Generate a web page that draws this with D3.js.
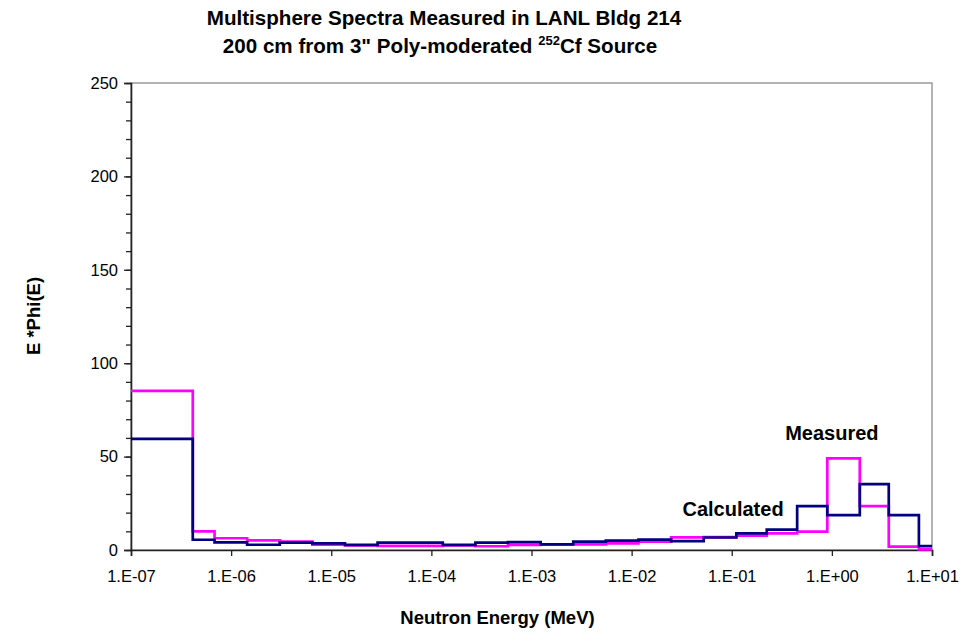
<!DOCTYPE html>
<html>
<head>
<meta charset="utf-8">
<script src="https://cdn.jsdelivr.net/npm/d3@7"></script>
<style>
  body { margin: 0; background: #fff; }
  text { font-family: "Liberation Sans", Arial, sans-serif; }
</style>
</head>
<body>
<div id="chart"></div>
<script>
// bin edges in MeV (26 edges -> 25 bins)
const binEdges = [1e-7, 4.14e-7, 6.83e-7, 1.445e-6, 3.059e-6, 6.476e-6, 1.371e-5, 2.902e-5,
    6.144e-5, 1.301e-4, 2.754e-4, 5.829e-4, 1.234e-3, 2.613e-3, 5.531e-3, 1.171e-2,
    2.479e-2, 5.247e-2, 1.111e-1, 2.237e-1, 4.5e-1, 9.0e-1, 1.9, 3.7, 7.4, 10];

// E*Phi(E) per bin
const measured = [85.2, 10.0, 6.3, 5.2, 4.5, 2.8, 2.4, 2.2, 2.2, 2.4, 2.0, 2.7, 3.0,
    3.0, 3.6, 4.5, 6.8, 6.9, 7.7, 8.9, 9.8, 49.1, 23.5, 1.8, 0.3];
const calculated = [59.5, 5.5, 4.1, 2.8, 4.0, 3.6, 2.7, 3.9, 3.9, 2.7, 3.9, 4.2, 3.0,
    4.5, 5.0, 5.6, 4.8, 6.7, 8.9, 10.9, 23.5, 18.7, 35.3, 18.7, 2.1];

const xTicks = [1e-7, 1e-6, 1e-5, 1e-4, 1e-3, 1e-2, 1e-1, 1e0, 1e1];
const xTickLabels = ["1.E-07", "1.E-06", "1.E-05", "1.E-04", "1.E-03", "1.E-02", "1.E-01", "1.E+00", "1.E+01"];
const yTicks = [0, 50, 100, 150, 200, 250];
const yMinorTicks = d3.range(0, 251, 10);

const W = 966, H = 634;
const margins = { top: 83, right: 34, bottom: 84, left: 131 };
const width = W - margins.left - margins.right;   // 801
const height = H - margins.top - margins.bottom;  // 467

const svg = d3.select("#chart")
    .append("svg")
        .attr("width", W)
        .attr("height", H);

// title, two lines, the second with a superscript
const title = svg.append("text")
    .attr("x", 444)
    .attr("y", 25)
    .attr("text-anchor", "middle")
    .attr("font-size", "20.6px")
    .attr("font-weight", "bold");
title.append("tspan").text("Multisphere Spectra Measured in LANL Bldg 214");

const title2 = svg.append("text")
    .attr("x", 440)
    .attr("y", 53)
    .attr("text-anchor", "middle")
    .attr("font-size", "20.6px")
    .attr("font-weight", "bold");
title2.append("tspan").text("200 cm from 3\" Poly-moderated ");
title2.append("tspan").attr("font-size", "13px").attr("dy", -8).text("252");
title2.append("tspan").attr("dy", 8).text("Cf Source");

const g = svg.append("g")
    .attr("transform", `translate(${margins.left}, ${margins.top})`);

const x = d3.scaleLog()
    .domain([1e-7, 10])
    .range([0, width]);

const y = d3.scaleLinear()
    .domain([0, 250])
    .range([height, 0]);

// plot area border (grey)
g.append("rect")
    .attr("x", 0)
    .attr("y", 0)
    .attr("width", width)
    .attr("height", height)
    .attr("fill", "none")
    .attr("stroke", "#8c8c8c")
    .attr("stroke-width", 1.3);

// y axis: minor ticks every 10, major every 50
const yMinor = g.append("g")
    .call(d3.axisLeft(y).tickValues(yMinorTicks).tickSize(5).tickFormat(""));
yMinor.select(".domain").remove();
yMinor.selectAll("line").attr("stroke", "#222").attr("stroke-width", 1.3);

const yAxis = g.append("g")
    .call(d3.axisLeft(y).tickValues(yTicks).tickSize(7).tickPadding(6));
yAxis.select(".domain").attr("stroke", "#222").attr("stroke-width", 1.6);
yAxis.selectAll("line").attr("stroke", "#222").attr("stroke-width", 1.3);
yAxis.selectAll("text")
    .attr("font-size", "16.5px")
    .attr("fill", "#000")
    .style("font-family", "'Liberation Sans', Arial, sans-serif");

// x axis
const xAxis = g.append("g")
    .attr("transform", `translate(0, ${height})`)
    .call(d3.axisBottom(x).tickValues(xTicks).tickSize(6).tickPadding(14)
        .tickFormat((d, i) => xTickLabels[i]));
xAxis.select(".domain").attr("stroke", "#222").attr("stroke-width", 1.6);
xAxis.selectAll("line").attr("stroke", "#222").attr("stroke-width", 1.3);
xAxis.selectAll("text")
    .attr("font-size", "16.5px")
    .attr("fill", "#000")
    .style("font-family", "'Liberation Sans', Arial, sans-serif");

// axis titles
svg.append("text")
    .attr("x", margins.left + width / 2 - 34)
    .attr("y", 624)
    .attr("text-anchor", "middle")
    .attr("font-size", "18.5px")
    .attr("font-weight", "bold")
    .text("Neutron Energy (MeV)");

svg.append("text")
    .attr("transform", "translate(40, 316) rotate(-90)")
    .attr("text-anchor", "middle")
    .attr("font-size", "18.5px")
    .attr("font-weight", "bold")
    .text("E *Phi(E)");

// step lines: each bin drawn from its left edge to its right edge
function stepPoints(values) {
    const pts = values.map((v, i) => [binEdges[i], v]);
    pts.push([binEdges[binEdges.length - 1], values[values.length - 1]]);
    return pts;
}

const line = d3.line()
    .x(d => x(d[0]))
    .y(d => y(d[1]))
    .curve(d3.curveStepAfter);

g.append("path")
    .datum(stepPoints(measured))
    .attr("fill", "none")
    .attr("stroke", "#ff00ff")
    .attr("stroke-width", 2.7)
    .attr("d", line);

g.append("path")
    .datum(stepPoints(calculated))
    .attr("fill", "none")
    .attr("stroke", "#000080")
    .attr("stroke-width", 2.7)
    .attr("d", line);

// series labels
g.append("text")
    .attr("x", x(1.0))
    .attr("y", y(59))
    .attr("text-anchor", "middle")
    .attr("font-size", "20px")
    .attr("font-weight", "bold")
    .text("Measured");

g.append("text")
    .attr("x", x(0.103))
    .attr("y", y(18))
    .attr("text-anchor", "middle")
    .attr("font-size", "20px")
    .attr("font-weight", "bold")
    .text("Calculated");
</script>
</body>
</html>
